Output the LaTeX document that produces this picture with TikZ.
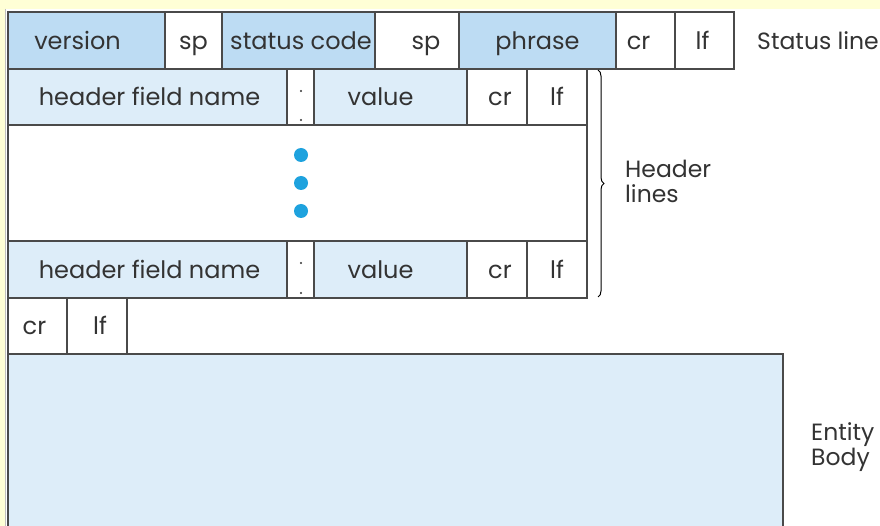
\documentclass[tikz,border=0pt]{standalone}
\usepackage{fontspec}
\setmainfont{Poppins}
\usetikzlibrary{decorations.pathreplacing}
\definecolor{bgyellow}{HTML}{FFFFD6}
\definecolor{statblue}{HTML}{BDDCF3}
\definecolor{lightblue}{HTML}{DDEDF9}
\definecolor{dotblue}{HTML}{1EA2DE}
\definecolor{edge}{HTML}{4A4A4A}
\newcommand{\fcell}[7]{%
  \pgfmathsetmacro\cw{#3-#2}\pgfmathsetmacro\ch{#5-#4}%
  \pgfmathsetmacro\cx{(#2+#3)/2}\pgfmathsetmacro\cy{(#4+#5)/2}%
  \node[cellbox, fill=#6, minimum width=\cw pt, minimum height=\ch pt] (#1) at (\cx,\cy) {#7};}
\begin{document}
\begin{tikzpicture}[x=1pt,y=-1pt,
  cellbox/.style={draw=edge, line width=1.4pt, rectangle, inner sep=0pt, outer sep=0pt,
    text height=17.5pt, text depth=0pt,
    font=\fontsize{24}{28}\selectfont, text=black!80},
  colondot/.style={circle, fill=black!80, inner sep=0pt, minimum size=2.4pt},
  bigdot/.style={circle, fill=dotblue, inner sep=0pt, minimum size=14pt},
  sidelabel/.style={anchor=west, align=left, inner sep=0pt, font=\fontsize{23.5}{25}\selectfont, text=black!80}]
\useasboundingbox (0,0) rectangle (880,526);
\fill[white] (0,0) rectangle (880,526);
\fill[bgyellow] (0,0) rectangle (880,9);
\fill[bgyellow] (0,0) rectangle (5,526);
\draw[black!25, line width=0.6pt] (5.5,9) -- (5.5,526);
% status line
\fcell{ver}{8}{165}{12}{69}{statblue}{\kern-18pt version}
\fcell{sp1}{165}{222}{12}{69}{white}{sp}
\fcell{code}{222}{375}{12}{69}{statblue}{\kern5pt status code}
\fcell{sp2}{375}{459}{12}{69}{white}{\kern18pt sp}
\fcell{phr}{459}{616}{12}{69}{statblue}{phrase}
\fcell{scr}{616}{675}{12}{69}{white}{cr\kern14pt}
\fcell{slf}{675}{734}{12}{69}{white}{lf\kern4pt}
% header line 1
\fcell{hname1}{8}{287}{69}{125}{lightblue}{\kern4pt header field name}
\fcell{hcol1}{287}{314}{69}{125}{white}{}
\fcell{hval1}{314}{467}{69}{125}{lightblue}{value\kern20pt}
\fcell{hcr1}{467}{527}{69}{125}{white}{\kern6pt cr}
\fcell{hlf1}{527}{587}{69}{125}{white}{lf}
% dots region
\fcell{gap}{8}{587}{125}{241}{white}{}
% header line 2
\fcell{hname2}{8}{287}{241}{298}{lightblue}{\kern4pt header field name}
\fcell{hcol2}{287}{314}{241}{298}{white}{}
\fcell{hval2}{314}{467}{241}{298}{lightblue}{value\kern20pt}
\fcell{hcr2}{467}{527}{241}{298}{white}{\kern6pt cr}
\fcell{hlf2}{527}{587}{241}{298}{white}{lf}
% blank line
\fcell{ecr}{8}{67}{298}{354}{white}{cr\kern6pt}
\fcell{elf}{67}{127}{298}{354}{white}{\kern6pt lf}
% colon dots
\node[colondot] (c1a) at (301,91) {};
\node[colondot] (c1b) at (301,120) {};
\node[colondot] (c2a) at (301,263) {};
\node[colondot] (c2b) at (301,293) {};
% ellipsis dots
\node[bigdot] (d1) at (301,155) {};
\node[bigdot] (d2) at (301,183) {};
\node[bigdot] (d3) at (301,211) {};
% entity body
\node[fill=lightblue, draw=none, inner sep=0pt, outer sep=0pt, minimum width=775pt, minimum height=176pt] (body) at (395.5,442) {};
\draw[edge, line width=1.4pt] (body.south west) -- (body.north west) -- (body.north east) -- (body.south east);
% brace
\coordinate (brtop) at (598,70);
\coordinate (brbot) at (598,297);
\draw[black, line width=1pt, decoration={brace, amplitude=6pt}, decorate] (brtop) -- (brbot);
% labels
\node[sidelabel] (lstatus) at (757,41) {Status line};
\node[sidelabel] (lheader) at (625,181) {Header\\lines};
\node[sidelabel] (lbody) at (811,447) {Entity\\Body};
\end{tikzpicture}
\end{document}
